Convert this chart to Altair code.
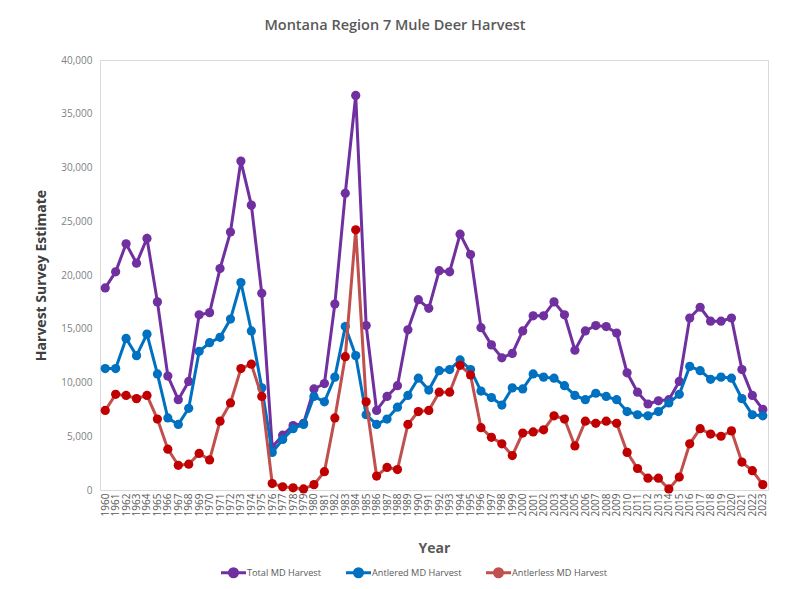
import altair as alt
import pandas as pd

years = list(range(1960, 2024))

total = [18800, 20300, 22900, 21100, 23400, 17500, 10600, 8400, 10100, 16300,
         16500, 20600, 24000, 30600, 26500, 18300, 4000, 5100, 6000, 6200,
         9400, 9900, 17300, 27600, 36700, 15300, 7400, 8700, 9700, 14900,
         17700, 16900, 20400, 20300, 23800, 21900, 15100, 13500, 12300, 12700,
         14800, 16200, 16200, 17500, 16300, 13000, 14800, 15300, 15200, 14600,
         10900, 9100, 8000, 8300, 8400, 10100, 16000, 17000, 15700, 15700,
         16000, 11200, 8800, 7500]

antlered = [11300, 11300, 14100, 12500, 14500, 10800, 6700, 6100, 7600, 12900,
            13700, 14200, 15900, 19300, 14800, 9500, 3500, 4700, 5700, 6100,
            8700, 8200, 10500, 15200, 12500, 7000, 6100, 6600, 7700, 8800,
            10400, 9300, 11100, 11200, 12100, 11200, 9200, 8600, 7900, 9500,
            9400, 10800, 10500, 10400, 9700, 8800, 8400, 9000, 8700, 8400,
            7300, 7000, 6900, 7300, 8100, 8900, 11500, 11100, 10300, 10500,
            10400, 8500, 7000, 6900]

antlerless = [7400, 8900, 8800, 8500, 8800, 6600, 3800, 2300, 2400, 3400,
              2800, 6400, 8100, 11300, 11700, 8700, 600, 300, 200, 100,
              500, 1700, 6700, 12400, 24200, 8200, 1300, 2100, 1900, 6100,
              7300, 7400, 9100, 9100, 11600, 10700, 5800, 4900, 4300, 3200,
              5300, 5400, 5600, 6900, 6600, 4100, 6400, 6200, 6400, 6200,
              3500, 2000, 1100, 1100, 100, 1200, 4300, 5700, 5200, 5000,
              5500, 2600, 1800, 500]

series_names = ["Total MD Harvest", "Antlered MD Harvest", "Antlerless MD Harvest"]
line_colors = ["#7030A0", "#0070C0", "#C0504D"]
point_colors = ["#7030A0", "#0070C0", "#C00000"]
y_ticks = [0, 5000, 10000, 15000, 20000, 25000, 30000, 35000, 40000]

rows = []
for name, vals in zip(series_names, [total, antlered, antlerless]):
    for yr, v in zip(years, vals):
        rows.append({"Year": str(yr), "value": v, "series": name})
df = pd.DataFrame(rows)

FONT = "Open Sans"
GREY = "#595959"

x_enc = alt.X("Year:O", scale=alt.Scale(type="point", padding=0.5),
              axis=alt.Axis(title="Year", labelAngle=270, labelFontSize=10,
                            labelColor=GREY, labelPadding=3, ticks=False,
                            domain=False, titleFontSize=14, titleFontWeight="bold",
                            titleColor=GREY, titlePadding=26, labelFont=FONT,
                            titleFont=FONT))
y_enc = alt.Y("value:Q", scale=alt.Scale(domain=[0, 40000]),
              axis=alt.Axis(title="Harvest Survey Estimate", values=y_ticks,
                            format=",.0f", labelFontSize=10, labelColor="#7f7f7f",
                            labelPadding=8, ticks=False, domain=False, grid=False,
                            titleFontSize=14, titleFontWeight="bold",
                            titleColor="#404040", titlePadding=12,
                            labelFont=FONT, titleFont=FONT))

legend_symbol = "M-2.5,0L2.5,0M0.8,0A0.8,0.8,0,1,1,-0.8,0A0.8,0.8,0,1,1,0.8,0Z"

color_scale = alt.Scale(domain=series_names, range=line_colors)

layers = []
for name, pc in zip(series_names, point_colors):
    base = alt.Chart(df).transform_filter(alt.datum.series == name)
    line = base.mark_line(strokeWidth=3).encode(
        x=x_enc, y=y_enc,
        color=alt.Color("series:N", scale=color_scale, sort=series_names,
                        legend=alt.Legend(title=None, orient="none",
                                          direction="horizontal",
                                          legendX=127, legendY=506,
                                          symbolType=legend_symbol,
                                          symbolSize=100, symbolStrokeWidth=3,
                                          symbolFillColor=alt.ExprRef("scale('color', datum.value)"),
                                          labelFontSize=9.2, labelColor=GREY,
                                          labelFont=FONT, columnPadding=18,
                                          labelOffset=7))
    )
    pts = base.mark_circle(size=85, opacity=1).encode(
        x=x_enc, y=y_enc, color=alt.value(pc)
    )
    layers += [line, pts]

chart = alt.layer(*layers).properties(
    width=668, height=430,
    title=alt.TitleParams("Montana Region 7 Mule Deer Harvest", fontSize=14.5,
                          font=FONT, fontWeight=600, color=GREY, anchor="middle",
                          dx=-39, offset=22),
    autosize=alt.AutoSizeParams(type="none"),
    padding={"left": 92, "top": 52, "right": 26, "bottom": 90},
).configure_view(stroke="#d9d9d9", strokeWidth=1)

chart.save("out.html", embed_options={"renderer": "svg", "actions": False})
